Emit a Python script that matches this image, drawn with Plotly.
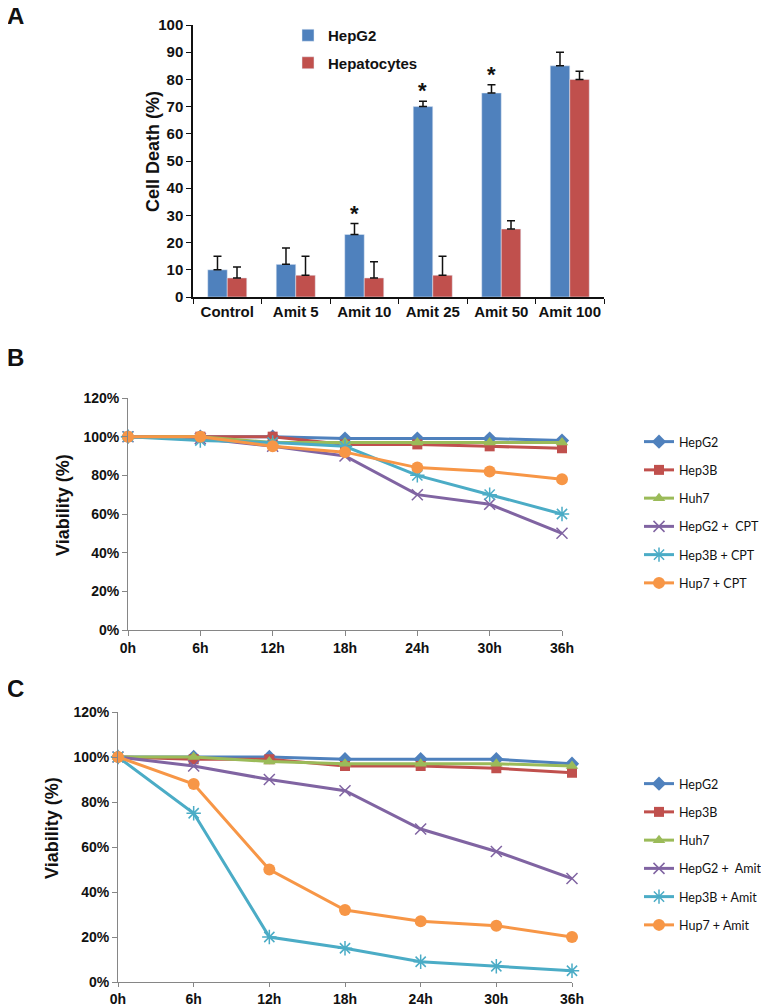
import plotly.graph_objects as go

W, H = 769, 1005

# ---------------- Panel A data ----------------
a_categories = ["Control", "Amit 5", "Amit 10", "Amit 25", "Amit 50", "Amit 100"]
a_hepg2 = [10, 12, 23, 70, 75, 85]
a_hepg2_err = [5, 6, 4, 2, 3, 5]
a_hepato = [7, 8, 7, 8, 25, 80]
a_hepato_err = [4, 7, 6, 7, 3, 3]
a_signif = [False, False, True, True, True, False]

# ---------------- Panels B / C data ----------------
time_labels = ["0h", "6h", "12h", "18h", "24h", "30h", "36h"]

b_hepg2 = [1.00, 1.00, 1.00, 0.99, 0.99, 0.99, 0.98]
b_hep3b = [1.00, 1.00, 1.00, 0.96, 0.96, 0.95, 0.94]
b_huh7 = [1.00, 1.00, 0.97, 0.97, 0.97, 0.97, 0.97]
b_hepg2_cpt = [1.00, 0.99, 0.95, 0.90, 0.70, 0.65, 0.50]
b_hep3b_cpt = [1.00, 0.98, 0.97, 0.95, 0.80, 0.70, 0.60]
b_hup7_cpt = [1.00, 1.00, 0.95, 0.92, 0.84, 0.82, 0.78]

c_hepg2 = [1.00, 1.00, 1.00, 0.99, 0.99, 0.99, 0.97]
c_hep3b = [1.00, 0.99, 0.99, 0.96, 0.96, 0.95, 0.93]
c_huh7 = [1.00, 1.00, 0.98, 0.97, 0.97, 0.97, 0.96]
c_hepg2_amit = [1.00, 0.96, 0.90, 0.85, 0.68, 0.58, 0.46]
c_hep3b_amit = [1.00, 0.75, 0.20, 0.15, 0.09, 0.07, 0.05]
c_hup7_amit = [1.00, 0.88, 0.50, 0.32, 0.27, 0.25, 0.20]

b_names = ["HepG2", "Hep3B", "Huh7", "HepG2 +\u00a0 CPT", "Hep3B + CPT", "Hup7 + CPT"]
c_names = ["HepG2", "Hep3B", "Huh7", "HepG2 +\u00a0 Amit", "Hep3B + Amit", "Hup7 + Amit"]

y_ticks = [0, 0.2, 0.4, 0.6, 0.8, 1.0, 1.2]
y_ticklabels = ["0%", "20%", "40%", "60%", "80%", "100%", "120%"]

BLUE, RED, GREEN, PURPLE, TEAL, ORANGE = "#4F81BD", "#C0504D", "#9BBB59", "#8064A2", "#4BACC6", "#F79646"

styles = [
    dict(color=BLUE, symbol="diamond", size=11, lw=0),
    dict(color=RED, symbol="square", size=10, lw=0),
    dict(color=GREEN, symbol="triangle-up", size=11, lw=0),
    dict(color=PURPLE, symbol="x-thin", size=11, lw=1.5),
    dict(color=TEAL, symbol="asterisk", size=12, lw=1.5),
    dict(color=ORANGE, symbol="circle", size=12, lw=0),
]

BOLD = "Liberation Sans"
OFF = 8  # the page body adds an 8px margin; positions below are in screen pixels


def px_x(p):
    return (p - OFF) / W


def px_y(p):
    return 1 - (p - OFF) / H


fig = go.Figure()

# ---------------- Panel A ----------------
fig.add_trace(go.Bar(
    x=a_categories, y=a_hepg2, name="HepG2", marker_color=BLUE,
    error_y=dict(type="data", array=a_hepg2_err, arrayminus=[0] * len(a_hepg2_err),
                 symmetric=False, color="#111", thickness=1.5, width=4),
    xaxis="x", yaxis="y", legend="legend", legendgroup="a1",
))
fig.add_trace(go.Bar(
    x=a_categories, y=a_hepato, name="Hepatocytes", marker_color=RED,
    error_y=dict(type="data", array=a_hepato_err, arrayminus=[0] * len(a_hepato_err),
                 symmetric=False, color="#111", thickness=1.5, width=4),
    xaxis="x", yaxis="y", legend="legend", legendgroup="a2",
))

annotations = []
for cat, v, e, s in zip(a_categories, a_hepg2, a_hepg2_err, a_signif):
    if s:
        annotations.append(dict(
            x=cat, y=v + e, xref="x", yref="y", text="<b>*</b>", showarrow=False,
            xshift=-10, yshift=-4, yanchor="bottom", xanchor="center",
            font=dict(family=BOLD, size=22, color="#111"),
        ))

# ---------------- Panels B and C ----------------
b_series = [b_hepg2, b_hep3b, b_huh7, b_hepg2_cpt, b_hep3b_cpt, b_hup7_cpt]
c_series = [c_hepg2, c_hep3b, c_huh7, c_hepg2_amit, c_hep3b_amit, c_hup7_amit]

for i, (name, vals, st) in enumerate(zip(b_names, b_series, styles)):
    fig.add_trace(go.Scatter(
        x=time_labels, y=vals, name=name, mode="lines+markers",
        line=dict(color=st["color"], width=3),
        marker=dict(symbol=st["symbol"], size=st["size"], color=st["color"],
                    line=dict(color=st["color"], width=st["lw"])),
        xaxis="x2", yaxis="y2", legend="legend2", legendgroup=f"b{i}", cliponaxis=False,
    ))

for i, (name, vals, st) in enumerate(zip(c_names, c_series, styles)):
    fig.add_trace(go.Scatter(
        x=time_labels, y=vals, name=name, mode="lines+markers",
        line=dict(color=st["color"], width=3),
        marker=dict(symbol=st["symbol"], size=st["size"], color=st["color"],
                    line=dict(color=st["color"], width=st["lw"])),
        xaxis="x3", yaxis="y3", legend="legend3", legendgroup=f"c{i}", cliponaxis=False,
    ))

tickfont = dict(family=BOLD, size=15, color="#111", weight="bold")
tickfont_bc = dict(family=BOLD, size=14, color="#111", weight="bold")
GRAY = "#868686"

fig.update_layout(
    width=W, height=H, margin=dict(l=0, r=0, t=0, b=0, autoexpand=False),
    paper_bgcolor="white", plot_bgcolor="white",
    barmode="group", bargap=0.43, bargroupgap=0,
    xaxis=dict(domain=[px_x(193), px_x(604)], anchor="y", showgrid=False, automargin=False,
               showline=True, linecolor="#111", linewidth=1.5, tickangle=0,
               ticks="outside", tickson="boundaries", ticklen=5, tickcolor="#111",
               tickfont=tickfont),
    yaxis=dict(domain=[px_y(297), px_y(25)], anchor="x", range=[0, 100], dtick=10,
               showgrid=False, showline=True, linecolor="#111", linewidth=1.5, automargin=False,
               ticks="outside", ticklen=5, tickcolor="#111", tickfont=tickfont, zeroline=False),
    xaxis2=dict(domain=[px_x(128), px_x(562)], anchor="y2", range=[0, 6], showgrid=False,
                showline=True, linecolor=GRAY, linewidth=1, ticks="outside", ticklen=5,
                tickcolor=GRAY, tickfont=tickfont_bc, automargin=False, tickangle=0),
    yaxis2=dict(domain=[px_y(630), px_y(398)], anchor="x2", range=[0, 1.2],
                tickvals=y_ticks, ticktext=y_ticklabels, showgrid=False, zeroline=False,
                showline=True, linecolor=GRAY, linewidth=1, ticks="outside", ticklen=5,
                tickcolor=GRAY, tickfont=tickfont_bc, automargin=False),
    xaxis3=dict(domain=[px_x(118), px_x(572)], anchor="y3", range=[0, 6], showgrid=False,
                showline=True, linecolor=GRAY, linewidth=1, ticks="outside", ticklen=4,
                tickcolor=GRAY, tickfont=tickfont_bc, automargin=False, tickangle=0),
    yaxis3=dict(domain=[px_y(982), px_y(712)], anchor="x3", range=[0, 1.2],
                tickvals=y_ticks, ticktext=y_ticklabels, showgrid=False, zeroline=False,
                showline=True, linecolor=GRAY, linewidth=1, ticks="outside", ticklen=5,
                tickcolor=GRAY, tickfont=tickfont_bc, automargin=False),
    legend=dict(x=px_x(288), y=px_y(19), xanchor="left", yanchor="top",
                font=dict(family=BOLD, size=15, color="#111", weight="bold"),
                bgcolor="rgba(0,0,0,0)", tracegroupgap=5, itemwidth=30),
    legend2=dict(x=px_x(639), y=px_y(427), xanchor="left", yanchor="top",
                 font=dict(family="Lato", size=12.5, color="#111"), bgcolor="rgba(0,0,0,0)",
                 tracegroupgap=9, itemwidth=30),
    legend3=dict(x=px_x(639), y=px_y(769), xanchor="left", yanchor="top",
                 font=dict(family="Lato", size=12.5, color="#111"), bgcolor="rgba(0,0,0,0)",
                 tracegroupgap=9, itemwidth=30),
)


# axis titles and panel letters
def label(x, y, text, size, angle=0):
    return dict(x=px_x(x), y=px_y(y), xref="paper", yref="paper", text=text,
                textangle=angle, showarrow=False, xanchor="center", yanchor="middle",
                font=dict(family=BOLD, size=size, color="#111"))


annotations += [
    label(153, 152, "<b>Cell Death (%)</b>", 18, -90),
    label(63, 505, "<b>Viability (%)</b>", 18, -90),
    label(52, 828, "<b>Viability (%)</b>", 18, -90),
    label(15, 15, "<b>A</b>", 24),
    label(15, 357, "<b>B</b>", 24),
    label(15, 688, "<b>C</b>", 24),
]
fig.update_layout(annotations=annotations)

fig.write_html("out.html")
